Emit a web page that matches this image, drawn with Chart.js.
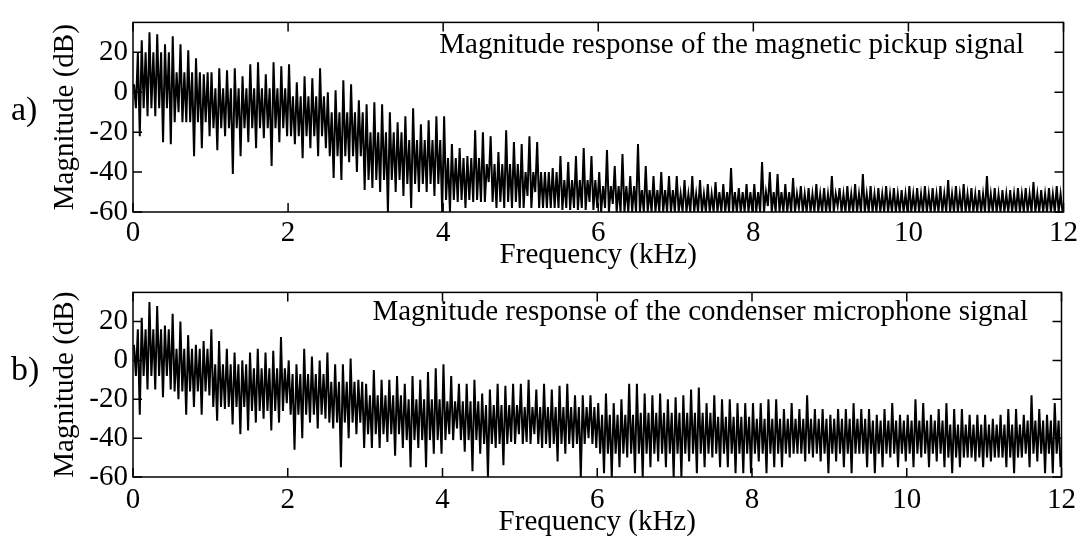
<!DOCTYPE html>
<html>
<head>
<meta charset="utf-8">
<script src="https://cdn.jsdelivr.net/npm/chart.js@4.4.1/dist/chart.umd.min.js"></script>
<style>
  body { margin: 0; background: #fff; }
  #wrap { position: relative; width: 1082px; height: 539px; }
  canvas { position: absolute; left: 0; }
</style>
</head>
<body>
<div id="wrap">
  <canvas id="panelA" width="1082" height="270" style="top:0"></canvas>
  <canvas id="panelB" width="1082" height="269" style="top:270px"></canvas>
</div>
<script>
// Spectra in 0.1 kHz bins: upper and lower value of each bin (dB)
var binWidth = 0.1;
// dense core band of the trace, read in 0.5 kHz steps (dB)
var coreWidth = 0.5;
var xTicks = [0, 2, 4, 6, 8, 10, 12];
var yTicks = [-60, -40, -20, 0, 20];

// a) magnetic pickup
var pickupHi = [
  4, 26, 30, 29, 24, 28, 24, 21, 17, 9, 10, 12, 11, 12, 8, 14, 15, 9, 15, 13,
  14, 5, 8, 7, 12, 0, 1, 6, 4, -4, -6, -5, -6, -10, -15, -12, -8, -16, -14, -12,
  -12, -26, -28, -32, -19, -20, -22, -30, -19, -25, -26, -22, -25, -40, -38, -32, -35, -32, -28, -32,
  -40, -29, -37, -31, -42, -26, -37, -42, -40, -42, -42, -44, -42, -44, -46, -45, -46, -38, -48, -46,
  -46, -35, -40, -41, -46, -43, -47, -48, -46, -48, -42, -48, -47, -46, -41, -47, -48, -47, -48, -49,
  -47, -48, -47, -48, -47, -44, -47, -46, -48, -49, -42, -48, -49, -49, -48, -48, -45, -49, -48, -47
];
var pickupLo = [
  -22, -12, -12, -25, -26, -10, -15, -32, -28, -22, -29, -22, -41, -32, -25, -28, -23, -37, -25, -22,
  -26, -33, -28, -32, -28, -43, -44, -35, -40, -49, -48, -50, -60, -50, -52, -58, -50, -50, -52, -60,
  -60, -55, -58, -55, -55, -45, -58, -58, -58, -58, -52, -50, -58, -58, -58, -58, -58, -58, -55, -58,
  -58, -56, -60, -60, -60, -60, -60, -60, -60, -60, -60, -60, -60, -60, -60, -60, -60, -60, -60, -60,
  -60, -57, -60, -60, -60, -58, -60, -60, -60, -60, -57, -60, -60, -60, -60, -60, -60, -60, -60, -60,
  -60, -60, -60, -60, -60, -60, -60, -60, -60, -60, -60, -60, -60, -60, -60, -60, -60, -60, -60, -60
];
var pickupCoreHi = [20, 10, 2, 2, -2, -10, -20, -24, -33, -36, -40, -44, -47, -49, -51, -50, -50, -51, -51, -51, -51, -51, -51, -51];
var pickupCoreLo = [-8, -15, -18, -18, -22, -32, -44, -46, -54, -55, -58, -59, -60, -60, -60, -60, -60, -60, -60, -60, -60, -60, -60, -60];

// b) condenser microphone
var micHi = [
  8, 22, 30, 28, 18, 24, 20, 13, 8, 10, 16, 10, 6, 4, 0, 4, 6, 4, 5, 12,
  0, -2, 6, 2, 0, 4, -2, -2, 1, -10, -12, -5, -10, -10, -8, -12, -8, -10, -6, -4,
  -2, -8, -12, -12, -10, -17, -15, -12, -13, -12, -12, -10, -15, -12, -15, -13, -12, -18, -18, -18,
  -22, -17, -22, -20, -12, -12, -17, -18, -17, -20, -19, -18, -15, -14, -22, -18, -20, -20, -22, -22,
  -22, -22, -20, -20, -25, -22, -25, -18, -25, -25, -28, -25, -25, -22, -25, -25, -28, -25, -22, -28,
  -28, -20, -22, -28, -25, -22, -25, -25, -28, -28, -28, -30, -28, -25, -25, -28, -18, -25, -28, -22
];
var micLo = [
  -28, -15, -15, -19, -15, -20, -28, -24, -28, -18, -31, -25, -33, -38, -36, -32, -30, -36, -32, -22,
  -46, -40, -32, -35, -30, -35, -55, -40, -38, -45, -45, -45, -42, -49, -45, -55, -45, -55, -48, -48,
  -38, -35, -47, -57, -48, -60, -45, -54, -42, -38, -42, -38, -45, -45, -52, -48, -45, -60, -40, -45,
  -58, -60, -55, -50, -58, -60, -55, -52, -55, -60, -60, -52, -58, -55, -50, -55, -55, -58, -58, -58,
  -52, -58, -55, -55, -50, -48, -52, -50, -52, -58, -52, -55, -58, -48, -55, -58, -55, -50, -55, -52,
  -55, -50, -55, -52, -55, -58, -55, -50, -52, -55, -52, -50, -55, -58, -50, -55, -52, -58, -58, -55
];
var micCoreHi = [16, 6, -2, -4, -7, -11, -18, -20, -21, -23, -24, -24, -28, -27, -27, -29, -30, -30, -30, -31, -31, -33, -33, -31];
var micCoreLo = [-8, -16, -24, -26, -28, -32, -38, -41, -41, -43, -43, -43, -48, -48, -48, -48, -48, -48, -48, -48, -48, -50, -50, -48];

var serif = '"Liberation Serif", "Times New Roman", serif';

// ogni bin diventa: picco alto, bordo basso del nucleo, bordo alto del nucleo, picco basso
function trace(hi, lo, coreHi, coreLo) {
  var pts = [];
  var perCore = Math.round(coreWidth / binWidth);
  for (var i = 0; i < hi.length; i++) {
    var c = Math.floor(i / perCore);
    var x0 = i * binWidth;
    pts.push({ x: x0 + binWidth * 0.125, y: hi[i] });
    pts.push({ x: x0 + binWidth * 0.375, y: coreLo[c] });
    pts.push({ x: x0 + binWidth * 0.625, y: coreHi[c] });
    pts.push({ x: x0 + binWidth * 0.875, y: lo[i] });
  }
  return pts;
}

// cornice, tacche interne, titolo interno ed etichetta del pannello
var frame = {
  id: 'frame',
  afterDraw: function (chart, args, o) {
    var ctx = chart.ctx, a = chart.chartArea;
    var x = chart.scales.x, y = chart.scales.y;
    ctx.save();
    ctx.strokeStyle = '#000';
    ctx.lineWidth = 1.5;
    ctx.strokeRect(a.left, a.top, a.right - a.left, a.bottom - a.top);
    ctx.beginPath();
    x.ticks.forEach(function (t) {
      var px = x.getPixelForValue(t.value);
      ctx.moveTo(px, a.bottom); ctx.lineTo(px, a.bottom - 9);
      ctx.moveTo(px, a.top); ctx.lineTo(px, a.top + 9);
    });
    y.ticks.forEach(function (t) {
      var py = y.getPixelForValue(t.value);
      ctx.moveTo(a.left, py); ctx.lineTo(a.left + 9, py);
      ctx.moveTo(a.right, py); ctx.lineTo(a.right - 9, py);
    });
    ctx.stroke();
    ctx.fillStyle = '#000';
    ctx.font = '29px ' + serif;
    ctx.textAlign = 'right';
    ctx.textBaseline = 'alphabetic';
    ctx.fillText(o.title, o.titleRight, o.titleBase);
    ctx.font = '34px ' + serif;
    ctx.textAlign = 'left';
    ctx.fillText(o.label, 11, o.labelBase);
    ctx.restore();
  }
};

function makeChart(id, hi, lo, coreHi, coreLo, o) {
  return new Chart(id, {
    type: 'line',
    data: {
      datasets: [{
        data: trace(hi, lo, coreHi, coreLo),
        borderColor: '#000',
        borderWidth: 2,
        pointRadius: 0,
        tension: 0,
        fill: false
      }]
    },
    options: {
      responsive: false,
      animation: false,
      devicePixelRatio: 1,
      layout: { padding: { top: o.padTop, right: 17, left: 0, bottom: 0 } },
      plugins: {
        legend: { display: false },
        tooltip: { enabled: false },
        frame: o
      },
      scales: {
        x: {
          type: 'linear', min: 0, max: 12,
          afterBuildTicks: function (s) { s.ticks = xTicks.map(function (v) { return { value: v }; }); },
          afterFit: function (s) { s.height = o.xAxisH; },
          grid: { display: false, drawTicks: false },
          border: { display: false },
          ticks: { padding: o.xTickPad, color: '#000', maxRotation: 0, autoSkip: false, font: { family: serif, size: 29 } },
          title: { display: true, text: 'Frequency (kHz)', color: '#000', font: { family: serif, size: 29, lineHeight: 1 }, padding: { top: 0, bottom: o.xTitlePad } }
        },
        y: {
          min: -60, max: 35,
          afterBuildTicks: function (s) { s.ticks = yTicks.map(function (v) { return { value: v }; }); },
          afterFit: function (s) { s.width = 133; },
          grid: { display: false, drawTicks: false },
          border: { display: false },
          ticks: { padding: 5, color: '#000', font: { family: serif, size: 29 } },
          title: { display: true, text: 'Magnitude (dB)', color: '#000', font: { family: serif, size: 29, lineHeight: 1 }, padding: { top: 51, bottom: 0 } }
        }
      }
    },
    plugins: [frame]
  });
}

makeChart('panelA', pickupHi, pickupLo, pickupCoreHi, pickupCoreLo, {
  padTop: 10, xAxisH: 58, xTickPad: 4, xTitlePad: 0,
  title: 'Magnitude response of the magnetic pickup signal', titleRight: 1024, titleBase: 53,
  label: 'a)', labelBase: 120
});
makeChart('panelB', micHi, micLo, micCoreHi, micCoreLo, {
  padTop: 7, xAxisH: 62, xTickPad: 6, xTitlePad: 2,
  title: 'Magnitude response of the condenser microphone signal', titleRight: 1028, titleBase: 50,
  label: 'b)', labelBase: 110
});
</script>
</body>
</html>
